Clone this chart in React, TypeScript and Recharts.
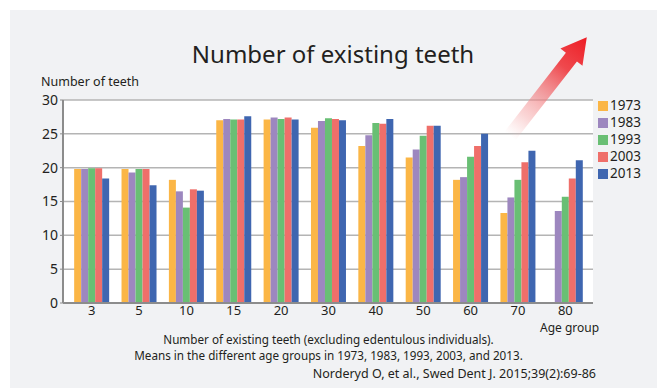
import { BarChart, Bar, XAxis, YAxis, CartesianGrid, Legend } from 'recharts'

const ageGroups = ['3', '5', '10', '15', '20', '30', '40', '50', '60', '70', '80']
const years = ['1973', '1983', '1993', '2003', '2013']
const yearColors = ['#fbb646', '#9d87bf', '#69bf74', '#ef6f6a', '#3f66b0']

// mean number of teeth per age group, one array per survey year
const teeth1973 = [19.8, 19.8, 18.2, 27.0, 27.1, 25.9, 23.2, 21.5, 18.2, 13.3, null]
const teeth1983 = [19.8, 19.3, 16.5, 27.2, 27.4, 26.9, 24.8, 22.7, 18.6, 15.6, 13.6]
const teeth1993 = [19.9, 19.8, 14.1, 27.1, 27.2, 27.3, 26.6, 24.7, 21.6, 18.2, 15.7]
const teeth2003 = [19.9, 19.8, 16.8, 27.1, 27.4, 27.2, 26.5, 26.2, 23.2, 20.8, 18.4]
const teeth2013 = [18.4, 17.4, 16.6, 27.6, 27.1, 27.0, 27.2, 26.2, 25.0, 22.5, 21.1]

const yTicks = [0, 5, 10, 15, 20, 25, 30]

const seriesValues = [teeth1973, teeth1983, teeth1993, teeth2003, teeth2013]

const data = ageGroups.map((age, i) => {
  const row: Record<string, string | number | null> = { age }
  years.forEach((y, k) => { row['y' + y] = seriesValues[k][i] })
  return row
})

const FONT = '"Noto Sans", "DejaVu Sans", sans-serif'
const TEXT = '#231f20'

function YearLegend({ payload }: any) {
  if (!payload) return null
  return (
    <div style={{ fontFamily: FONT, color: TEXT }}>
      {payload.map((p: any) => (
        <div key={p.value} style={{ display: 'flex', alignItems: 'center', height: 17 }}>
          <span style={{ width: 10, height: 10, background: p.color, marginRight: 2, display: 'inline-block' }} />
          <span style={{ fontSize: 13.5, lineHeight: '17px' }}>{p.value}</span>
        </div>
      ))}
    </div>
  )
}

function TrendArrow() {
  return (
    <svg width={657} height={388} style={{ position: 'absolute', left: 0, top: 0, pointerEvents: 'none' }}>
      <defs>
        <linearGradient id="arrowFade" x1="0" y1="0" x2="1" y2="0">
          <stop offset="0%" stopColor="#f6b4b4" stopOpacity={0} />
          <stop offset="20%" stopColor="#f4a3a4" stopOpacity={0.45} />
          <stop offset="70%" stopColor="#ef3a3f" stopOpacity={0.92} />
          <stop offset="100%" stopColor="#ed1c24" stopOpacity={1} />
        </linearGradient>
      </defs>
      <g transform="translate(510 136) rotate(-52.1)">
        <polygon points="0,-7 100,-7 100,-14 125,0 100,14 100,7 0,7" fill="url(#arrowFade)" />
      </g>
    </svg>
  )
}

const label = (extra: React.CSSProperties): React.CSSProperties => ({
  position: 'absolute', fontFamily: FONT, color: TEXT, whiteSpace: 'nowrap', lineHeight: 1, ...extra,
})

export default function App() {
  return (
    <div style={{ position: 'fixed', left: 0, top: 0, width: 657, height: 388, background: '#fff', overflow: 'hidden' }}>
      <div style={{ position: 'absolute', left: 10, top: 10, right: 0, bottom: 0, background: '#f1f2f4' }} />
      <div style={{ position: 'absolute', left: 0, top: 0 }}>
        <BarChart
          width={657}
          height={388}
          data={data}
          margin={{ top: 100, right: 64, bottom: 55, left: 0 }}
          barCategoryGap="13%"
          barGap={0}
        >
          <CartesianGrid vertical={false} fill="#fff" stroke="#b4b4b4" strokeWidth={1.5} />
          <XAxis
            dataKey="age"
            height={30}
            padding={{ left: 5, right: 4 }}
            tickLine={false}
            tickSize={0}
            tickMargin={3}
            axisLine={{ stroke: '#8c8c8c', strokeWidth: 2 }}
            tick={{ fill: TEXT, fontSize: 13, fontFamily: FONT }}
            interval={0}
          />
          <XAxis xAxisId="top" dataKey="age" orientation="top" height={0} tick={false} tickLine={false}
            axisLine={{ stroke: '#444', strokeWidth: 1.5 }} />
          <YAxis
            width={63}
            domain={[0, 30]}
            ticks={yTicks}
            tickSize={3}
            tickMargin={2}
            tickLine={{ stroke: '#8c8c8c' }}
            axisLine={{ stroke: '#8c8c8c', strokeWidth: 2 }}
            tick={{ fill: TEXT, fontSize: 14, fontFamily: FONT }}
          />
          <YAxis yAxisId="right" orientation="right" width={0} domain={[0, 30]} tick={false} tickLine={false}
            axisLine={{ stroke: '#444', strokeWidth: 1.5 }} />
          {years.map((y, k) => (
            <Bar key={y} dataKey={'y' + y} name={y} fill={yearColors[k]} isAnimationActive={false} />
          ))}
          <Legend
            layout="vertical"
            align="center"
            verticalAlign="middle"
            content={<YearLegend />}
            wrapperStyle={{ left: 598, top: 97, width: 60 }}
          />
        </BarChart>
      </div>
      <TrendArrow />
      <div style={label({ left: 0, width: 666, top: 42, textAlign: 'center', fontSize: 24 })}>Number of existing teeth</div>
      <div style={label({ left: 41, top: 76, fontSize: 12.5 })}>Number of teeth</div>
      <div style={label({ left: 540, top: 322, fontSize: 12 })}>Age group</div>
      <div style={label({ left: 0, width: 657, top: 331, textAlign: 'center', fontSize: 11.7, lineHeight: '16px' })}>
        Number of existing teeth (excluding edentulous individuals).
        <br />
        Means in the different age groups in 1973, 1983, 1993, 2003, and 2013.
      </div>
      <div style={label({ right: 61, top: 368, fontSize: 12.5 })}>Norderyd O, et al., Swed Dent J. 2015;39(2):69-86</div>
    </div>
  )
}
